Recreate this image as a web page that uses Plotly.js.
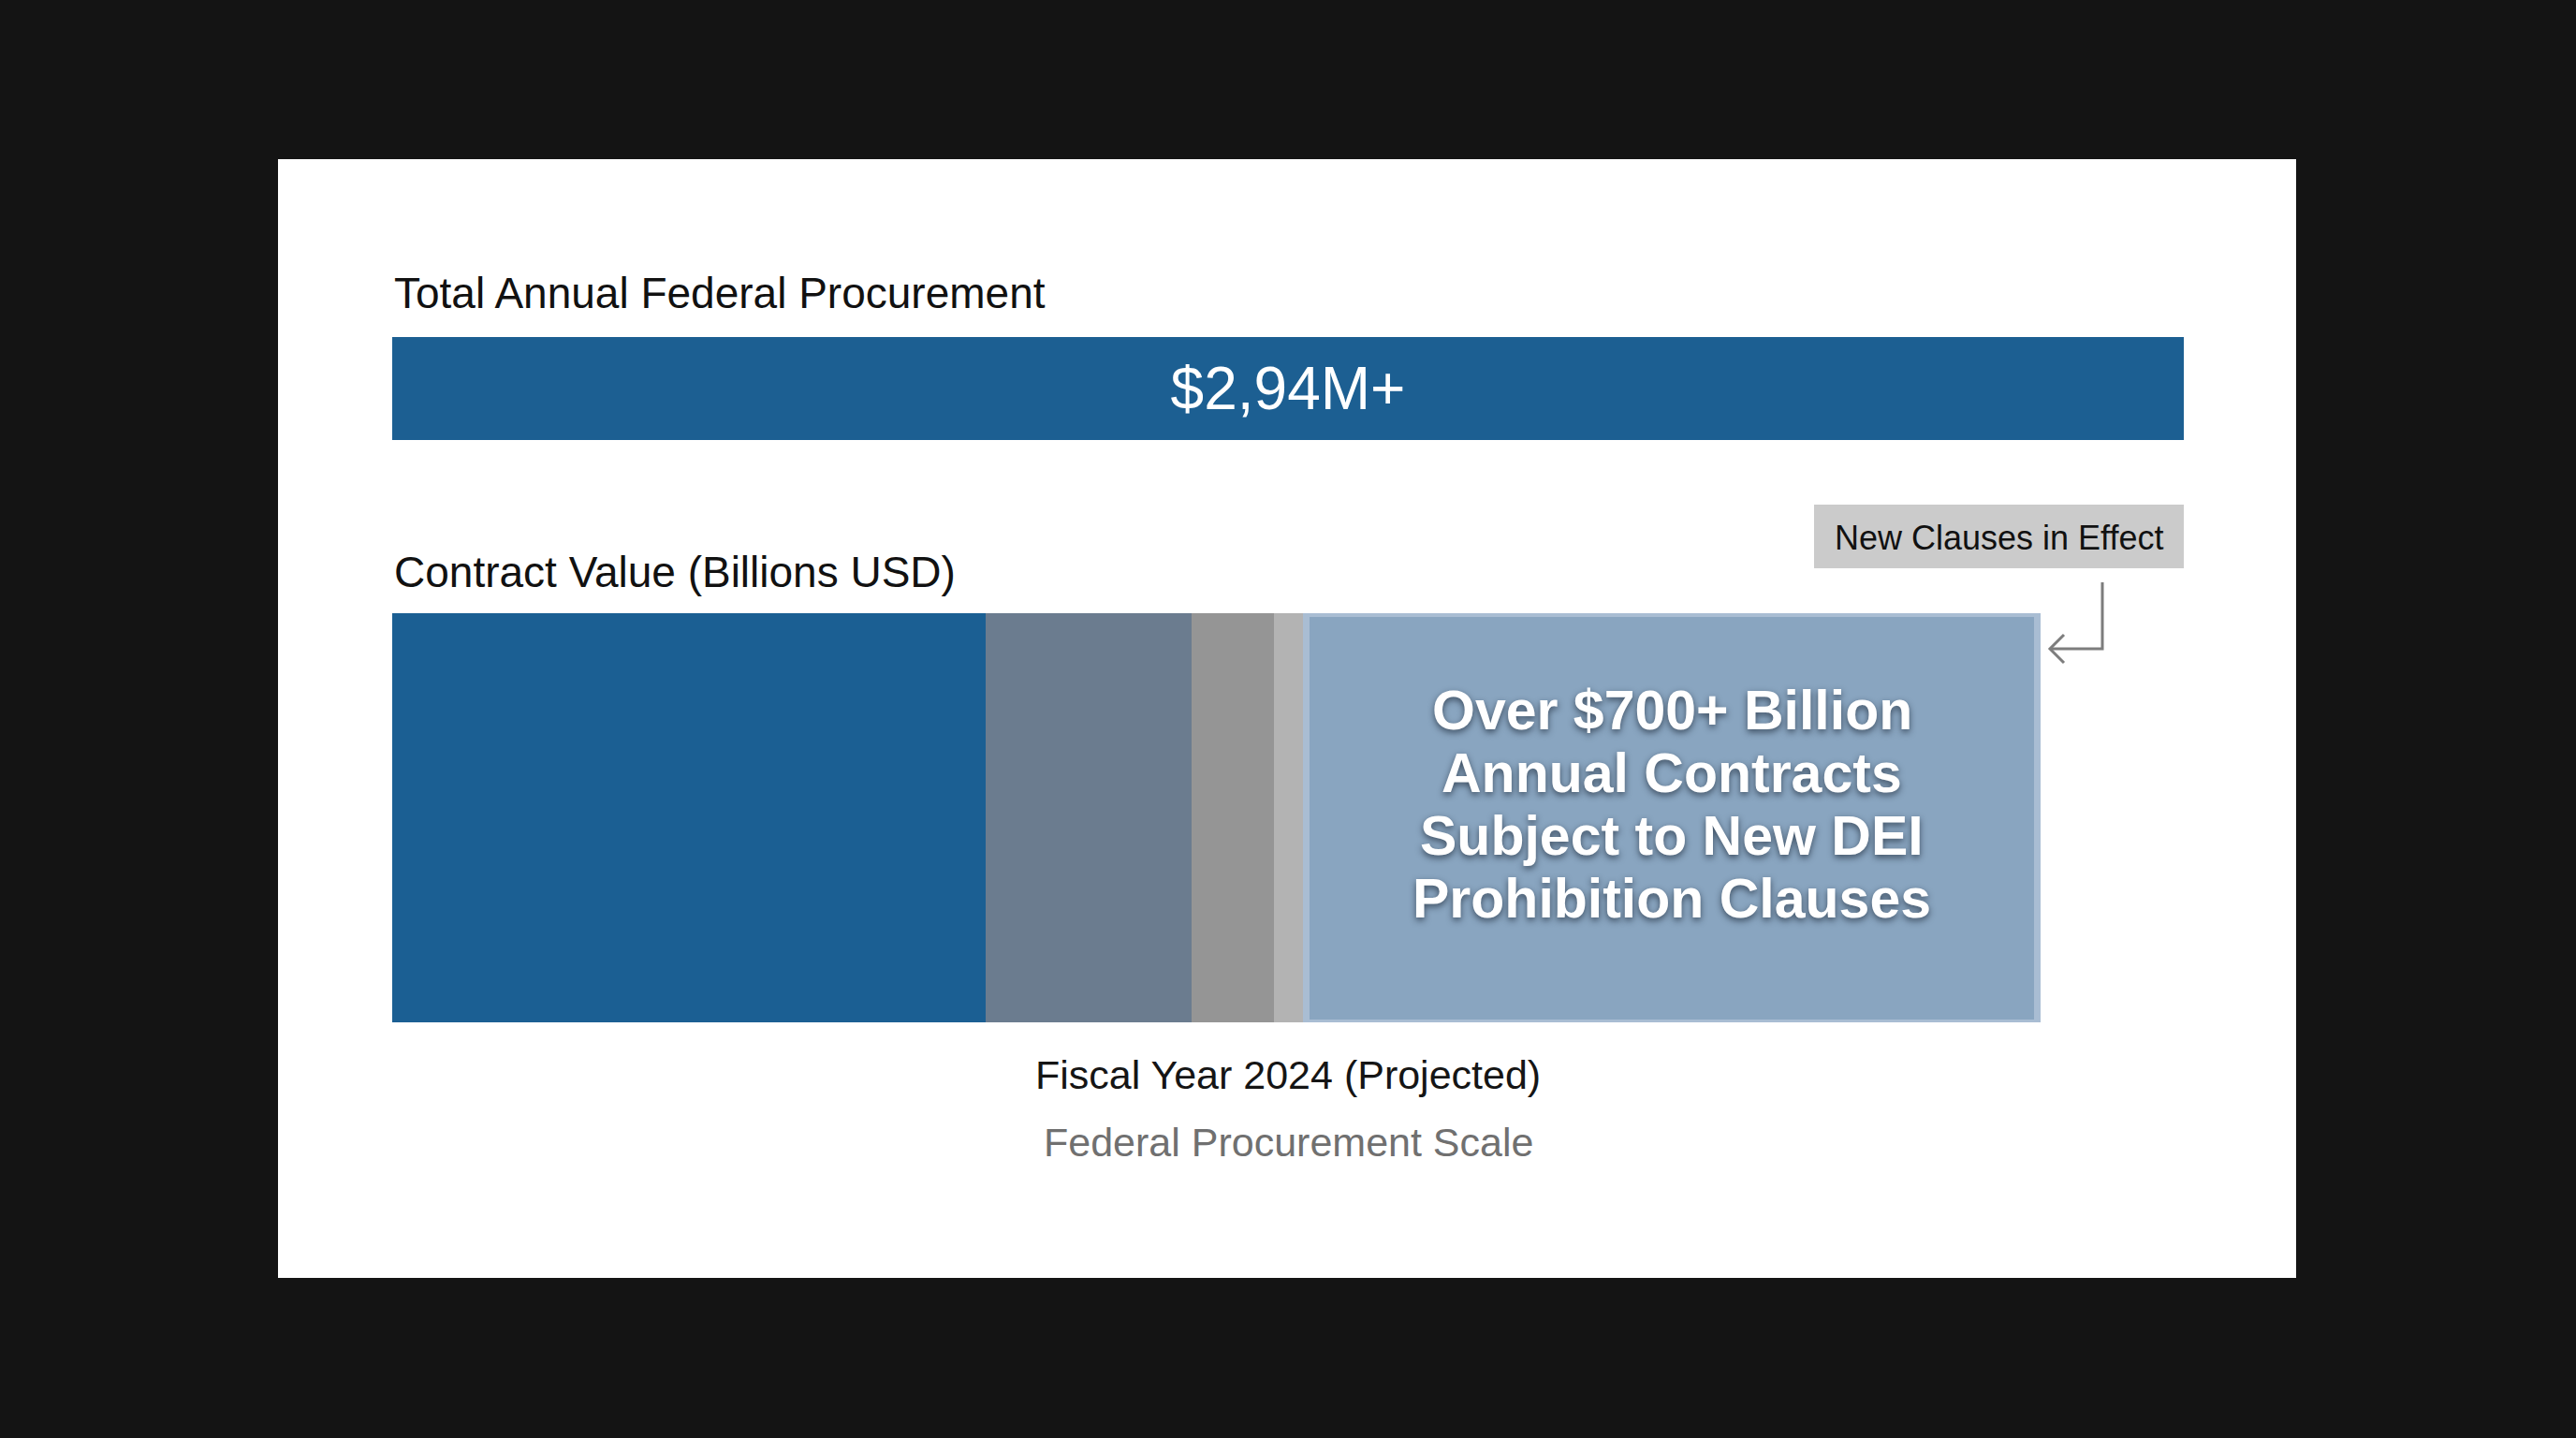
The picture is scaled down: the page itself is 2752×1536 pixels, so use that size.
<!DOCTYPE html>
<html>
<head>
<meta charset="utf-8">
<script src="https://cdn.plot.ly/plotly-3.0.1.min.js"></script>
<style>
  html, body { margin: 0; padding: 0; background: #141414; }
  #chart { width: 2752px; height: 1536px; }
</style>
</head>
<body>
<div id="chart"></div>
<script>
// ---- data (billions USD) ----
const totalCategory = ['Total Annual Federal Procurement'];
const totalValue = [1715];
const totalText = ['$2,94M+'];

const segmentNames = ['Segment 1', 'Segment 2', 'Segment 3', 'Segment 4', 'New DEI Clause Contracts'];
const segmentValues = [568, 197, 79, 31, 700];

const highlightLines = ['Over $700+ Billion', 'Annual Contracts', 'Subject to New DEI', 'Prohibition Clauses'];

const titleTop = 'Total Annual Federal Procurement';
const titleBottom = 'Contract Value (Billions USD)';
const axisLabel = 'Fiscal Year 2024 (Projected)';
const subLabel = 'Federal Procurement Scale';
const calloutText = 'New Clauses in Effect';

// ---- styles ----
const segmentColors = ['#1b5f93', '#6b7c8f', '#959595', '#b3b3b3', '#89a5c0'];
const FONT = 'Liberation Sans, Arial, Helvetica, sans-serif';
const W = 2752, H = 1536;
const px = x => x / W;
const py = y => 1 - y / H;

const xDomain = [px(419), px(2333)];
const xRange = [0, totalValue[0]];

const traces = [];
traces.push({
  type: 'bar', orientation: 'h',
  x: totalValue, y: [0], width: [1],
  xaxis: 'x', yaxis: 'y',
  marker: { color: '#1c5f92', line: { width: 0 } },
  text: totalText, textposition: 'inside', insidetextanchor: 'middle',
  textfont: { family: FONT, size: 64, color: '#ffffff' },
  hoverinfo: 'skip', name: totalCategory[0]
});

segmentValues.forEach((v, i) => {
  const last = i === segmentValues.length - 1;
  traces.push({
    type: 'bar', orientation: 'h',
    x: [v], y: [0], width: [1],
    xaxis: 'x2', yaxis: 'y2',
    marker: {
      color: segmentColors[i],
      line: last ? { width: 7, color: '#a9bdd3' } : { width: 0 }
    },
    hoverinfo: 'skip', name: segmentNames[i]
  });
});

// center of highlighted segment in data units
const cumBefore = segmentValues.slice(0, -1).reduce((a, b) => a + b, 0);
const highlightCenter = cumBefore + segmentValues[segmentValues.length - 1] / 2;

const annotations = [
  { text: titleTop, xref: 'paper', yref: 'paper', x: px(419), y: py(313), xanchor: 'left', yanchor: 'middle',
    showarrow: false, font: { family: FONT, size: 46, color: '#111111' } },
  { text: titleBottom, xref: 'paper', yref: 'paper', x: px(419), y: py(611), xanchor: 'left', yanchor: 'middle',
    showarrow: false, font: { family: FONT, size: 46, color: '#111111' } },
  { text: axisLabel, xref: 'paper', yref: 'paper', x: px(1376), y: py(1148), xanchor: 'center', yanchor: 'middle',
    showarrow: false, font: { family: FONT, size: 43, color: '#151515' } },
  { text: subLabel, xref: 'paper', yref: 'paper', x: px(1376), y: py(1220), xanchor: 'center', yanchor: 'middle',
    showarrow: false, font: { family: FONT, size: 43, color: '#707070' } },
  { text: calloutText, xref: 'paper', yref: 'paper', x: px(2135.5), y: py(574), xanchor: 'center', yanchor: 'middle',
    showarrow: false, font: { family: FONT, size: 36, color: '#111111' } }
];

const lineSpacing = 67, blockCenter = 859;
highlightLines.forEach((t, i) => {
  annotations.push({
    text: '<b>' + t + '</b>', xref: 'x2', yref: 'paper',
    x: highlightCenter, y: py(blockCenter + (i - (highlightLines.length - 1) / 2) * lineSpacing),
    xanchor: 'center', yanchor: 'middle', showarrow: false,
    font: { family: FONT, size: 59, color: '#ffffff', shadow: '0px 3px 7px rgba(20,30,45,0.65)' }
  });
});

const shapes = [
  // white card
  { type: 'rect', xref: 'paper', yref: 'paper', x0: px(297), x1: px(2453), y0: py(1365), y1: py(170),
    fillcolor: '#ffffff', line: { width: 0 }, layer: 'below' },
  // callout box
  { type: 'rect', xref: 'paper', yref: 'paper', x0: px(1938), x1: px(2333), y0: py(607), y1: py(539),
    fillcolor: '#cbcbcb', line: { width: 0 }, layer: 'below' },
  // arrow: vertical + horizontal
  { type: 'path', xref: 'paper', yref: 'paper',
    path: `M ${px(2246)} ${py(622)} L ${px(2246)} ${py(693)} L ${px(2190)} ${py(693)}`,
    line: { color: '#7d7d7d', width: 3 } },
  // arrowhead
  { type: 'path', xref: 'paper', yref: 'paper',
    path: `M ${px(2205)} ${py(678)} L ${px(2190)} ${py(693)} L ${px(2205)} ${py(708)}`,
    line: { color: '#7d7d7d', width: 3 } }
];

const layout = {
  width: W, height: H,
  margin: { l: 0, r: 0, t: 0, b: 0, pad: 0 },
  paper_bgcolor: '#141414', plot_bgcolor: 'rgba(0,0,0,0)',
  showlegend: false, hovermode: false,
  barmode: 'stack', bargap: 0,
  xaxis: { domain: xDomain, range: xRange, anchor: 'y', visible: false, fixedrange: true },
  yaxis: { domain: [py(470), py(360)], range: [-0.5, 0.5], anchor: 'x', visible: false, fixedrange: true },
  xaxis2: { domain: xDomain, range: xRange, anchor: 'y2', visible: false, fixedrange: true },
  yaxis2: { domain: [py(1092), py(655)], range: [-0.5, 0.5], anchor: 'x2', visible: false, fixedrange: true },
  annotations: annotations,
  shapes: shapes
};

Plotly.newPlot('chart', traces, layout, { displayModeBar: false, staticPlot: true });
</script>
</body>
</html>
